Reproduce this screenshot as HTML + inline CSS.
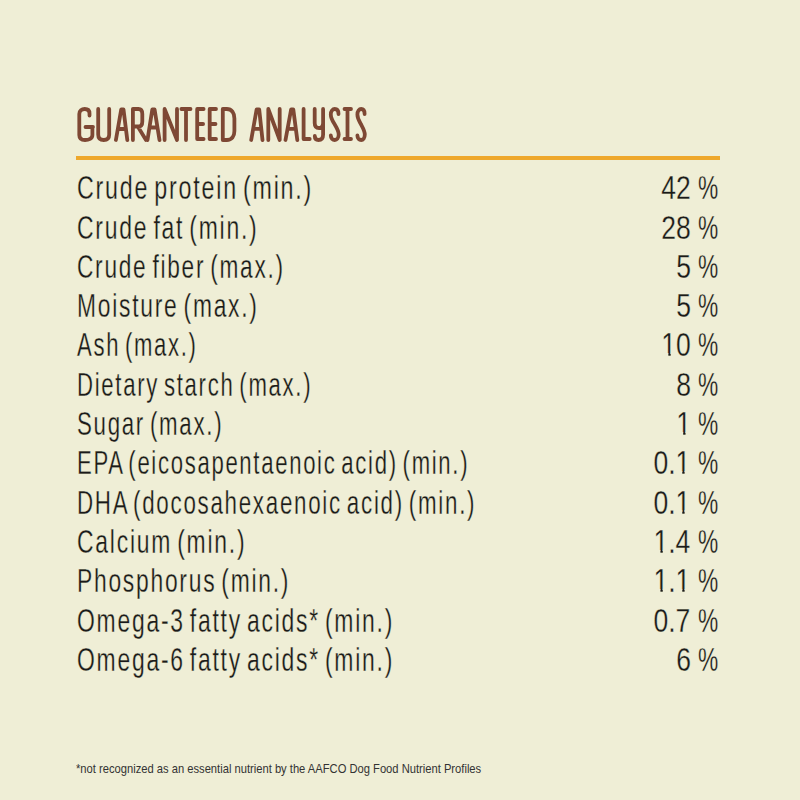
<!DOCTYPE html>
<html><head><meta charset="utf-8"><style>
html,body{margin:0;padding:0;}
body{width:800px;height:800px;background:#EFEED6;position:relative;overflow:hidden;font-family:"Liberation Sans",sans-serif;}
.l,.n,.p{position:absolute;font-size:34px;line-height:34px;color:#1a1a1a;white-space:pre;-webkit-text-stroke:0.3px #EFEED6;}
.l{left:77px;transform-origin:0 0;letter-spacing:2.6px;word-spacing:-4.5px;}
.n{right:109.5px;transform-origin:100% 0;}
.o{position:relative;}
.c{position:absolute;top:27.6px;height:3.8px;background:#EFEED6;}
.p{right:81.5px;transform-origin:100% 0;}
.h{position:absolute;left:76px;top:100px;font-size:51px;line-height:51px;font-weight:bold;color:#7E4834;white-space:pre;transform:scaleX(0.42);transform-origin:0 0;letter-spacing:3.9px;}
.rule{position:absolute;left:76px;top:156px;width:644px;height:4px;background:#EEA82C;}
.f{position:absolute;left:76px;top:761.5px;font-size:13px;line-height:13px;color:#333333;white-space:pre;transform:scaleX(0.86);transform-origin:0 0;}
</style></head><body>
<svg class="hs" width="800" height="160" viewBox="0 0 800 160" style="position:absolute;left:0;top:0"><path d="M89.5,115.5 L89.5,113.5 C89.5,110.5 87.5,109 84.7,109 C81.8,109 79.3,110.5 79.3,114 L79.3,135 C79.3,138.5 81.8,140 85,140 C88.7,140 92.4,138.5 92.4,135 L92.4,127 M85.5,127 L93,127 M98.2,109 L98.2,134.5 C98.2,138.5 100.5,140 103.7,140 C106.9,140 109.2,138.5 109.2,134.5 L109.2,109 M115.9,140 L121.2,109.5 L123.5,109.5 L127.3,140 M117.8,129 L126.0,129 M132.9,140 L132.9,109 L138.5,109 C141,109 142.3,111 142.3,114 L142.3,121.5 C142.3,124.5 141,126.5 138.5,126.5 L133,126.5 M137.8,126.5 L146,140 M147.5,140 L152.3,109.5 L154.6,109.5 L159.5,140 M149.4,127.5 L157.5,127.5 M164.6,140 L164.6,109 L177,140 L177,109 M181.4,109 L190.5,109 M186,109 L186,140 M203.6,109 L197.2,109 L197.2,139 L203.6,139 M197.2,124 L203.1,124 M216,109 L209.7,109 L209.7,139 L216,139 M209.7,124 L215.5,124 M222.8,109 L222.8,140 L226.8,140 C231.8,140 234.4,136.5 234.4,131 L234.4,118.5 C234.4,113 231.8,109 226.8,109 Z M251.2,140 L256.6,109.5 L259.2,109.5 L262.5,140 M253.2,128.8 L261.3,128.8 M268.3,140 L268.3,109 L279.7,140 L279.7,109 M285.5,140 L291.1,109.5 L293.3,109.5 L297.3,140 M287.5,128.8 L295.9,128.8 M303.6,109 L303.6,139 L309.7,139 M314.7,109 L314.7,123 C314.7,126.5 316.5,128 319,128 C321.5,128 323.1,126.5 323.1,123 M323.1,109 L323.1,134.5 C323.1,138.5 321,140 318.5,140 C316,140 314.8,138.5 314.8,136 M338.5,114 C338.5,110.5 336.75,109 334.75,109 C332.8,109 330.8,111 330.8,114.5 C330.8,118.5 332.6,121 334.75,124.5 C336.9,128 338.7,131 338.7,134.5 C338.7,138 336.75,140 334.75,140 C332.8,140 330.8,138.5 330.8,135.5 M344.5,109 L351,109 M347.5,109 L347.5,139 M344.5,139 L351,139 M364.6,114 C364.6,110.5 363.1,109 361.1,109 C359.4,109 357.4,111 357.4,114.5 C357.4,118.5 359.2,121 361.1,124.5 C363.0,128 364.8,131 364.8,134.5 C364.8,138 363.1,140 361.1,140 C359.4,140 357.4,138.5 357.4,135.5" fill="none" stroke="#7E4834" stroke-width="3.8" stroke-linecap="round" stroke-linejoin="round"/></svg>
<div class="rule"></div>
<div class="l" style="top:170.21px;transform:scaleX(0.6835)">Crude protein (min.)</div>
<div class="n" style="top:170.21px;transform:scaleX(0.78)">42</div>
<div class="p" style="top:170.21px;transform:scaleX(0.67)">%</div>
<div class="l" style="top:209.51px;transform:scaleX(0.6751)">Crude fat (min.)</div>
<div class="n" style="top:209.51px;transform:scaleX(0.78)">28</div>
<div class="p" style="top:209.51px;transform:scaleX(0.67)">%</div>
<div class="l" style="top:248.81px;transform:scaleX(0.6665)">Crude fiber (max.)</div>
<div class="n" style="top:248.81px;transform:scaleX(0.78)">5</div>
<div class="p" style="top:248.81px;transform:scaleX(0.67)">%</div>
<div class="l" style="top:288.11px;transform:scaleX(0.6713)">Moisture (max.)</div>
<div class="n" style="top:288.11px;transform:scaleX(0.78)">5</div>
<div class="p" style="top:288.11px;transform:scaleX(0.67)">%</div>
<div class="l" style="top:327.41px;transform:scaleX(0.649)">Ash (max.)</div>
<div class="n" style="top:327.41px;transform:scaleX(0.78)"><span class="o">1<i class="c" style="left:1.2px;width:7.4px"></i><i class="c" style="left:11.6px;width:7.6px"></i></span>0</div>
<div class="p" style="top:327.41px;transform:scaleX(0.67)">%</div>
<div class="l" style="top:366.71px;transform:scaleX(0.6516)">Dietary starch (max.)</div>
<div class="n" style="top:366.71px;transform:scaleX(0.78)">8</div>
<div class="p" style="top:366.71px;transform:scaleX(0.67)">%</div>
<div class="l" style="top:406.01px;transform:scaleX(0.6554)">Sugar (max.)</div>
<div class="n" style="top:406.01px;transform:scaleX(0.78)"><span class="o">1<i class="c" style="left:1.2px;width:7.4px"></i><i class="c" style="left:11.6px;width:7.6px"></i></span></div>
<div class="p" style="top:406.01px;transform:scaleX(0.67)">%</div>
<div class="l" style="top:445.31px;transform:scaleX(0.65)">EPA (eicosapentaenoic acid) (min.)</div>
<div class="n" style="top:445.31px;transform:scaleX(0.78)">0.<span class="o">1<i class="c" style="left:1.2px;width:7.4px"></i><i class="c" style="left:11.6px;width:7.6px"></i></span></div>
<div class="p" style="top:445.31px;transform:scaleX(0.67)">%</div>
<div class="l" style="top:484.61px;transform:scaleX(0.6576)">DHA (docosahexaenoic acid) (min.)</div>
<div class="n" style="top:484.61px;transform:scaleX(0.78)">0.<span class="o">1<i class="c" style="left:1.2px;width:7.4px"></i><i class="c" style="left:11.6px;width:7.6px"></i></span></div>
<div class="p" style="top:484.61px;transform:scaleX(0.67)">%</div>
<div class="l" style="top:523.91px;transform:scaleX(0.6743)">Calcium (min.)</div>
<div class="n" style="top:523.91px;transform:scaleX(0.78)"><span class="o">1<i class="c" style="left:1.2px;width:7.4px"></i><i class="c" style="left:11.6px;width:7.6px"></i></span>.4</div>
<div class="p" style="top:523.91px;transform:scaleX(0.67)">%</div>
<div class="l" style="top:563.21px;transform:scaleX(0.6714)">Phosphorus (min.)</div>
<div class="n" style="top:563.21px;transform:scaleX(0.78)"><span class="o">1<i class="c" style="left:1.2px;width:7.4px"></i><i class="c" style="left:11.6px;width:7.6px"></i></span>.<span class="o">1<i class="c" style="left:1.2px;width:7.4px"></i><i class="c" style="left:11.6px;width:7.6px"></i></span></div>
<div class="p" style="top:563.21px;transform:scaleX(0.67)">%</div>
<div class="l" style="top:602.51px;transform:scaleX(0.6738)">Omega-3 fatty acids* (min.)</div>
<div class="n" style="top:602.51px;transform:scaleX(0.78)">0.7</div>
<div class="p" style="top:602.51px;transform:scaleX(0.67)">%</div>
<div class="l" style="top:641.81px;transform:scaleX(0.6738)">Omega-6 fatty acids* (min.)</div>
<div class="n" style="top:641.81px;transform:scaleX(0.78)">6</div>
<div class="p" style="top:641.81px;transform:scaleX(0.67)">%</div>
<div class="f">*not recognized as an essential nutrient by the AAFCO Dog Food Nutrient Profiles</div>
</body></html>
